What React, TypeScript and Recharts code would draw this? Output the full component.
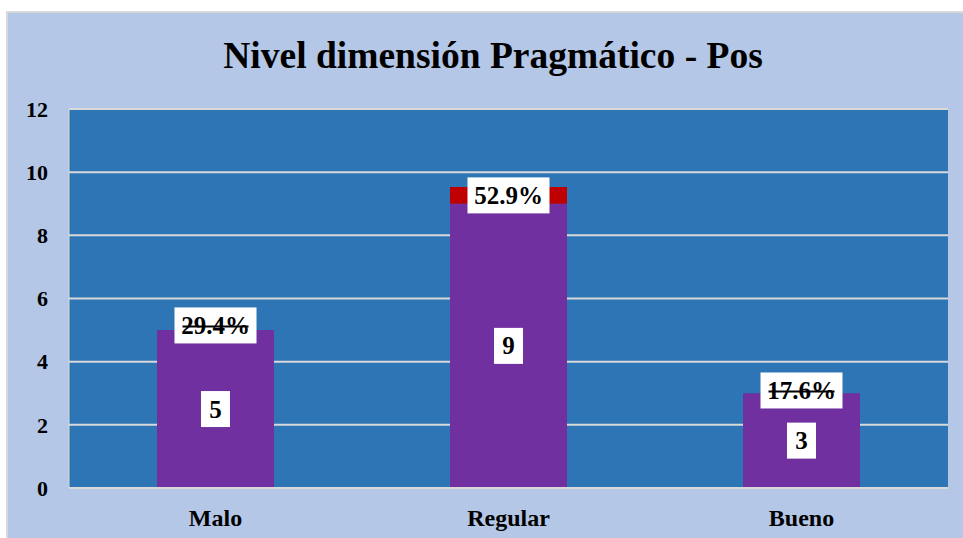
import React from 'react';
import { BarChart, Bar, XAxis, YAxis, CartesianGrid, LabelList, Cell } from 'recharts';

const categories = ['Malo', 'Regular', 'Bueno'];
const counts = [5, 9, 3];
const shares = [0.294, 0.529, 0.176];
const shareLabels = ['29.4%', '52.9%', '17.6%'];
const struckLabels = [true, false, true];
const shareColors = ['transparent', '#C00000', 'transparent'];
const yTicks = [0, 2, 4, 6, 8, 10, 12];
const title = 'Nivel dimensión Pragmático - Pos';

const data = categories.map((name, i) => ({
  name,
  count: counts[i],
  share: shares[i],
  shareLabel: shareLabels[i],
}));

const FONT = 'Liberation Serif, Times New Roman, serif';

const CountLabel = (props: any) => {
  const { x, y, width, height, value } = props;
  const cx = x + width / 2;
  const cy = y + height / 2;
  const w = 29;
  const h = 36;
  return (
    <g>
      <rect x={cx - w / 2} y={cy - h / 2} width={w} height={h} fill="#FFFFFF" />
      <text x={cx} y={cy + 8.5} textAnchor="middle" fontFamily={FONT} fontWeight="bold" fontSize={25} fill="#000">
        {value}
      </text>
    </g>
  );
};

const ShareLabel = (props: any) => {
  const { x, y, width, height, value, index } = props;
  const cx = x + width / 2;
  const cy = y + height / 2;
  const w = 82;
  const h = 36;
  const struck = struckLabels[index];
  return (
    <g>
      <rect x={cx - w / 2} y={cy - h / 2} width={w} height={h} fill="#FFFFFF" />
      <text x={cx} y={cy + 8.5} textAnchor="middle" fontFamily={FONT} fontWeight="bold" fontSize={25} fill="#000">
        {value}
      </text>
      {struck ? <line x1={cx - 33} x2={cx + 33} y1={cy + 1} y2={cy + 1} stroke="#000" strokeWidth={2} /> : null}
    </g>
  );
};

export default function App() {
  return (
    <div style={{ position: 'absolute', left: 0, top: 0, width: 963, height: 538, background: '#FFFFFF', overflow: 'hidden' }}>
      <div
        style={{
          position: 'absolute',
          left: 6,
          top: 11,
          width: 980,
          height: 560,
          background: '#B4C7E7',
          borderLeft: '2px solid #D9D9D9',
          borderTop: '2px solid #D9D9D9',
        }}
      />
      <div
        style={{
          position: 'absolute',
          left: 493,
          top: 37,
          transform: 'translateX(-50%)',
          whiteSpace: 'nowrap',
          fontFamily: FONT,
          fontWeight: 'bold',
          fontSize: 37.5,
          lineHeight: '37px',
          color: '#000',
        }}
      >
        {title}
      </div>
      <div style={{ position: 'absolute', left: 0, top: 0 }}>
        <BarChart
          width={963}
          height={538}
          data={data}
          margin={{ top: 109, right: 15, left: 0, bottom: 0 }}
          barCategoryGap={0}
        >
          <CartesianGrid vertical={false} horizontal={true} stroke="#D9D9D9" strokeWidth={2} fill="#2E75B6" fillOpacity={1} />
          <XAxis
            dataKey="name"
            height={50}
            axisLine={{ stroke: '#D9D9D9', strokeWidth: 2 }}
            tickLine={false}
            tickSize={0}
            tickMargin={21}
            tick={{ fontFamily: FONT, fontWeight: 'bold', fontSize: 24, fill: '#000' }}
          />
          <YAxis
            width={69}
            domain={[0, 12]}
            ticks={yTicks}
            interval={0}
            axisLine={{ stroke: '#D9D9D9', strokeWidth: 1 }}
            tickLine={false}
            tickSize={0}
            tickMargin={21}
            tick={{ fontFamily: FONT, fontWeight: 'bold', fontSize: 22, fill: '#000' }}
          />
          <Bar dataKey="count" stackId="a" fill="#7030A0" barSize={117} isAnimationActive={false}>
            <LabelList dataKey="count" content={CountLabel} />
          </Bar>
          <Bar dataKey="share" stackId="a" fill="#C00000" barSize={117} isAnimationActive={false}>
            {data.map((d, i) => (
              <Cell key={d.name} fill={shareColors[i]} />
            ))}
            <LabelList dataKey="shareLabel" content={ShareLabel} />
          </Bar>
        </BarChart>
      </div>
    </div>
  );
}
